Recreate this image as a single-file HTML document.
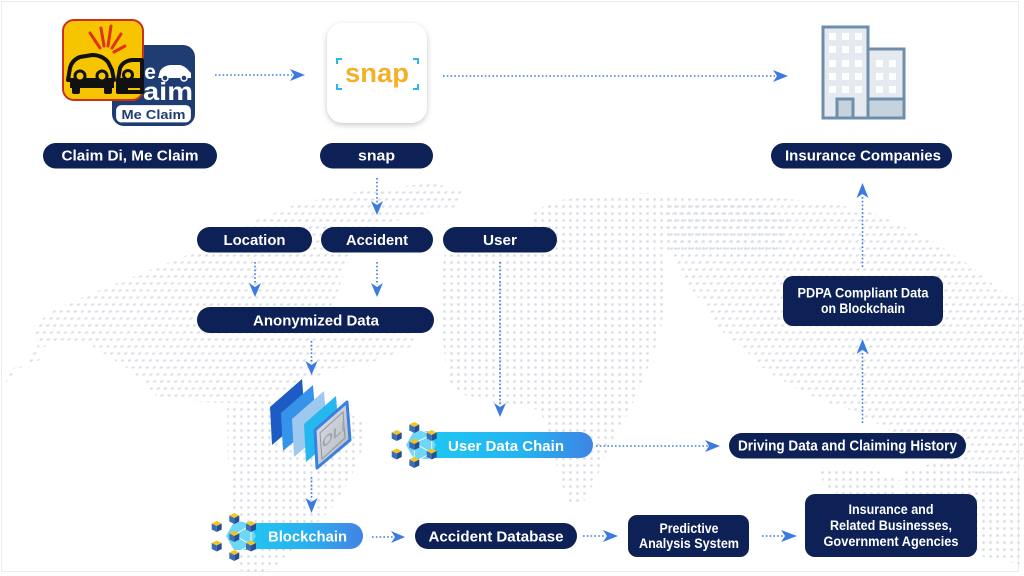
<!DOCTYPE html>
<html><head><meta charset="utf-8"><style>
html,body{margin:0;padding:0;background:#fff;}
svg{display:block;}
text{font-family:"Liberation Sans",Arial,sans-serif;font-weight:bold;}
</style></head><body>
<svg width="1024" height="576" viewBox="0 0 1024 576" xmlns="http://www.w3.org/2000/svg">
<defs>
<pattern id="dots" width="7" height="7" patternUnits="userSpaceOnUse"><circle cx="3.5" cy="3.5" r="1.35" fill="#d9dee5"/></pattern>
<pattern id="dots2" width="7" height="7" patternUnits="userSpaceOnUse" patternTransform="skewX(-25)"><ellipse cx="3.5" cy="3.5" rx="1.6" ry="1.2" fill="#dbe0e7"/></pattern>
<linearGradient id="gBC" x1="0" x2="1" y1="0" y2="0"><stop offset="0" stop-color="#1fc8f3"/><stop offset="0.55" stop-color="#2aaef0"/><stop offset="1" stop-color="#4283e4"/></linearGradient>
<linearGradient id="gUD" x1="0" x2="1" y1="0" y2="0"><stop offset="0" stop-color="#1dc9f4"/><stop offset="0.6" stop-color="#25b3f0"/><stop offset="1" stop-color="#3d84e4"/></linearGradient>
<linearGradient id="gSilver" x1="0" x2="1" y1="0" y2="1"><stop offset="0" stop-color="#e3e6ea"/><stop offset="1" stop-color="#aeb4bc"/></linearGradient>
<filter id="sh" x="-20%" y="-20%" width="140%" height="150%"><feDropShadow dx="0" dy="2" stdDeviation="3" flood-color="#000" flood-opacity="0.22"/></filter>
<g id="cube">
<polygon points="0,-5 5,-2.5 0,0 -5,-2.5" fill="#f6c51a"/>
<polygon points="-5,-2.5 0,0 0,6 -5,3.5" fill="#3a6fb8"/>
<polygon points="5,-2.5 0,0 0,6 5,3.5" fill="#244f92"/>
</g>
</defs>

<!-- frame -->
<rect x="1.5" y="1.5" width="1017" height="570" fill="none" stroke="#ececec" stroke-width="1"/>

<!-- world map dots -->
<g>
<polygon fill="url(#dots2)" points="0,387 7,370 40,360 33,327 53,310 100,290 150,270 200,250 257,220 300,203 367,190 433,183 462,190 455,207 420,215 380,225 360,240 345,270 335,300 330,320 360,330 410,320 415,345 380,360 330,370 300,385 260,400 233,403 200,402 160,400 133,372 90,345 60,340 33,352 15,375"/>
<polygon fill="url(#dots)" points="227,405 265,398 300,398 340,410 367,422 362,450 350,480 330,510 300,540 280,565 255,576 240,570 238,540 232,500 228,460"/>
<polygon fill="url(#dots)" points="445,250 480,243 520,240 560,236 600,235 640,242 662,252 665,300 660,335 645,375 630,410 612,440 600,470 585,500 570,505 560,480 552,445 540,410 505,405 470,398 448,385 443,340 440,290"/>
<polygon fill="url(#dots)" points="530,212 560,200 600,195 650,193 700,198 760,205 790,220 780,250 740,258 700,255 665,250 620,240 560,238 535,232"/>
<polygon fill="url(#dots2)" points="665,205 720,198 780,198 840,205 880,215 930,240 970,265 1000,290 1024,305 1024,470 995,480 965,470 935,455 905,440 880,425 850,410 820,400 790,385 765,370 745,350 720,330 700,300 680,275 668,250"/>
<polygon fill="url(#dots)" points="905,470 940,462 975,465 1010,475 1024,480 1024,565 995,560 965,552 938,540 915,525 905,500"/>
<polygon fill="url(#dots)" points="820,470 870,468 900,480 895,500 860,500 825,490"/>
</g>

<!-- ============ ICONS ============ -->
<!-- Me Claim icon (back) -->
<g>
<rect x="112" y="45" width="83" height="81" rx="12" fill="#1f3d72"/>
<text x="156" y="79" font-size="21" fill="#fff" text-anchor="end">Me</text>
<text x="143" y="100" font-size="25" fill="#fff" textLength="50" lengthAdjust="spacingAndGlyphs">aim</text>
<path d="M158,78 L160,71 Q163,66 170,65 L180,65 Q185,66 189,71 L191,73 L191,78 Z" fill="#fff"/>
<circle cx="165" cy="78" r="3" fill="#1f3d72" stroke="#fff" stroke-width="1.5"/>
<circle cx="184" cy="78" r="3" fill="#1f3d72" stroke="#fff" stroke-width="1.5"/>
<rect x="115.5" y="104.5" width="76" height="18.5" rx="6" fill="#fff" stroke="#1f3d72" stroke-width="1.2"/>
<text x="153.5" y="119" font-size="13" fill="#1f3d72" text-anchor="middle" textLength="64" lengthAdjust="spacingAndGlyphs">Me Claim</text>
</g>
<!-- Claim Di icon (front) -->
<g>
<rect x="63" y="20" width="80" height="80" rx="11" fill="#f7c500" stroke="#cc2e1f" stroke-width="2"/>
<g stroke="#e1301c" stroke-width="3" stroke-linecap="round">
<line x1="100" y1="48" x2="90" y2="33"/>
<line x1="104" y1="46" x2="101" y2="28"/>
<line x1="108" y1="46" x2="111" y2="26"/>
<line x1="112" y1="48" x2="121" y2="34"/>
<line x1="114" y1="52" x2="125" y2="46"/>
</g>
<!-- car 1 -->
<path d="M68,80 L70,68 Q72,60 80,57 L92,55 Q102,55 108,62 L112,70 L114,80 Z" fill="#f7c500" stroke="#111" stroke-width="4" stroke-linejoin="round"/>
<path d="M70,80 L114,80 L114,88 L70,88 Z" fill="#111"/>
<circle cx="80" cy="76" r="5" fill="#f7c500" stroke="#111" stroke-width="3"/>
<circle cx="102" cy="76" r="5" fill="#f7c500" stroke="#111" stroke-width="3"/>
<rect x="72" y="86" width="8" height="8" rx="2" fill="#111"/>
<rect x="104" y="86" width="8" height="8" rx="2" fill="#111"/>
<!-- car 2 (cut) -->
<path d="M118,80 L120,68 Q123,61 132,60 L142,60 L142,92 L118,92 Z" fill="#f7c500" stroke="#111" stroke-width="4" stroke-linejoin="round"/>
<rect x="118" y="78" width="24" height="10" fill="#111"/>
<circle cx="128" cy="75" r="4.5" fill="#f7c500" stroke="#111" stroke-width="3"/>
<rect x="120" y="86" width="8" height="8" rx="2" fill="#111"/>
</g>

<!-- snap icon -->
<g>
<rect x="327" y="23" width="100" height="100" rx="16" fill="#fff" filter="url(#sh)"/>
<text x="377" y="82" font-size="27" fill="#f3b12a" text-anchor="middle" textLength="64" lengthAdjust="spacingAndGlyphs">snap</text>
<g stroke="#2eb5e8" stroke-width="2" fill="none">
<path d="M342,59 L337,59 L337,64"/>
<path d="M337,84 L337,89 L342,89"/>
<path d="M413,59 L418,59 L418,64"/>
<path d="M418,84 L418,89 L413,89"/>
</g>
</g>

<!-- building icon -->
<g>
<rect x="823" y="27" width="45" height="91" fill="#e4eaf0" stroke="#6f8eaa" stroke-width="3"/>
<rect x="868" y="49" width="36" height="69" fill="#e4eaf0" stroke="#6f8eaa" stroke-width="3"/>
<rect x="868" y="99" width="36" height="19" fill="#c6d3df" stroke="#6f8eaa" stroke-width="3"/>
<rect x="837" y="99" width="16" height="19" fill="#c6d3df" stroke="#6f8eaa" stroke-width="3"/>
<g fill="#fff">
<rect x="829" y="33" width="7" height="7"/><rect x="842" y="33" width="7" height="7"/><rect x="855" y="33" width="7" height="7"/>
<rect x="829" y="46" width="7" height="7"/><rect x="842" y="46" width="7" height="7"/><rect x="855" y="46" width="7" height="7"/>
<rect x="829" y="60" width="7" height="7"/><rect x="842" y="60" width="7" height="7"/><rect x="855" y="60" width="7" height="7"/>
<rect x="829" y="73" width="7" height="7"/><rect x="842" y="73" width="7" height="7"/><rect x="855" y="73" width="7" height="7"/>
<rect x="829" y="86" width="7" height="7"/><rect x="842" y="86" width="7" height="7"/><rect x="855" y="86" width="7" height="7"/>
<rect x="876" y="60" width="7" height="7"/><rect x="889" y="60" width="7" height="7"/>
<rect x="876" y="73" width="7" height="7"/><rect x="889" y="73" width="7" height="7"/>
<rect x="876" y="86" width="7" height="7"/><rect x="889" y="86" width="7" height="7"/>
</g>
</g>

<!-- server stack icon -->
<g>
<polygon points="270,407 302,379 305,417 272,445" fill="#1d5cc4"/>
<polygon points="281,413 313,385 316,423 283,451" fill="#3792e9"/>
<polygon points="292,419 324,391 327,429 294,457" fill="#9dc9f1"/>
<polygon points="304,424 336,396 339,434 306,462" fill="#25b8ef"/>
<polygon points="315,430 347,402 350,440 317,468" fill="url(#gSilver)" stroke="#3a7fe2" stroke-width="3" stroke-linejoin="round"/>
<polygon points="320,433 343,412 345,438 322,459" fill="none" stroke="#8e959f" stroke-width="1"/>
<text x="0" y="0" font-size="14" fill="#a0a6ae" transform="translate(322,449) skewY(-40)">OLI</text>
</g>

<!-- User Data Chain -->
<g>
<rect x="418" y="432" width="175" height="26" rx="13" fill="url(#gUD)"/>
<polygon points="414,431 428,431 436,445 428,459 414,459 406,445" fill="#6fd6f5"/>
<g stroke="#fff" stroke-width="1" fill="none" opacity="0.9">
<polyline points="414.3,427 431.7,435 431.7,453 414.3,462 396.7,453"/>
<line x1="414.3" y1="443" x2="431.7" y2="435"/>
<line x1="414.3" y1="443" x2="431.7" y2="453"/>
<line x1="414.3" y1="443" x2="414.3" y2="462"/>
</g>
<use href="#cube" x="396.7" y="435"/>
<use href="#cube" x="414.3" y="427"/>
<use href="#cube" x="431.7" y="435"/>
<use href="#cube" x="414.3" y="444"/>
<use href="#cube" x="396.7" y="453.5"/>
<use href="#cube" x="431.7" y="453.5"/>
<use href="#cube" x="414.3" y="462"/>
<text x="506" y="451" font-size="14.5" fill="#fff" text-anchor="middle" textLength="116" lengthAdjust="spacingAndGlyphs">User Data Chain</text>
</g>

<!-- Blockchain -->
<g>
<rect x="243" y="523" width="120" height="26" rx="13" fill="url(#gBC)"/>
<polygon points="234,522 248,522 256,536 248,550 234,550 226,536" fill="#6fd6f5"/>
<g stroke="#fff" stroke-width="1" fill="none" opacity="0.9">
<polyline points="234.3,517 251,525 251,545 234.3,554"/>
<line x1="234.3" y1="535" x2="251" y2="525"/>
<line x1="234.3" y1="535" x2="251" y2="545"/>
</g>
<use href="#cube" x="216.7" y="526"/>
<use href="#cube" x="234.3" y="518"/>
<use href="#cube" x="251" y="526"/>
<use href="#cube" x="234.3" y="536"/>
<use href="#cube" x="216.7" y="545.5"/>
<use href="#cube" x="251" y="545.5"/>
<use href="#cube" x="234.3" y="555"/>
<text x="307.5" y="541.5" font-size="14.5" fill="#fff" text-anchor="middle" textLength="79" lengthAdjust="spacingAndGlyphs">Blockchain</text>
</g>

<!-- ============ NAVY LABELS ============ -->
<g fill="#0d2157">
<rect x="43" y="143" width="174" height="25.5" rx="12.7"/>
<rect x="320" y="143" width="113" height="25.5" rx="12.7"/>
<rect x="771" y="143" width="181" height="25.5" rx="12.7"/>
<rect x="197" y="227" width="115" height="25.5" rx="12.7"/>
<rect x="321" y="227" width="112" height="25.5" rx="12.7"/>
<rect x="443" y="227" width="114" height="25.5" rx="12.7"/>
<rect x="197" y="307" width="237" height="26" rx="13"/>
<rect x="415" y="523" width="162" height="26" rx="13"/>
<rect x="628" y="515" width="121" height="42" rx="9"/>
<rect x="805" y="494" width="172" height="63" rx="10"/>
<rect x="783" y="276" width="160" height="50" rx="10"/>
<rect x="729" y="433" width="237" height="25.5" rx="12.7"/>
</g>
<g fill="#fff" font-size="14.5" text-anchor="middle">
<text x="130" y="160.5" textLength="137" lengthAdjust="spacingAndGlyphs">Claim Di, Me Claim</text>
<text x="376.5" y="160.5" textLength="37" lengthAdjust="spacingAndGlyphs">snap</text>
<text x="863" y="160.5" textLength="156" lengthAdjust="spacingAndGlyphs">Insurance Companies</text>
<text x="254.5" y="245" textLength="62" lengthAdjust="spacingAndGlyphs">Location</text>
<text x="377" y="245" textLength="62" lengthAdjust="spacingAndGlyphs">Accident</text>
<text x="500" y="245" textLength="34" lengthAdjust="spacingAndGlyphs">User</text>
<text x="316" y="325.5" textLength="126" lengthAdjust="spacingAndGlyphs">Anonymized Data</text>
<text x="496" y="541.5" textLength="135" lengthAdjust="spacingAndGlyphs">Accident Database</text>
<text x="847.5" y="450.5" textLength="219" lengthAdjust="spacingAndGlyphs">Driving Data and Claiming History</text>
</g>
<g fill="#fff" font-size="13.5" text-anchor="middle">
<text x="689" y="533" textLength="59" lengthAdjust="spacingAndGlyphs">Predictive</text>
<text x="689" y="548" textLength="100" lengthAdjust="spacingAndGlyphs">Analysis System</text>
<text x="891" y="514" textLength="85" lengthAdjust="spacingAndGlyphs">Insurance and</text>
<text x="891" y="530" textLength="122" lengthAdjust="spacingAndGlyphs">Related Businesses,</text>
<text x="891" y="546" textLength="135" lengthAdjust="spacingAndGlyphs">Government Agencies</text>
<text x="863" y="297.5" textLength="131" lengthAdjust="spacingAndGlyphs">PDPA Compliant Data</text>
<text x="863" y="313" textLength="84" lengthAdjust="spacingAndGlyphs">on Blockchain</text>
</g>

<!-- ============ CONNECTORS ============ -->
<g stroke="#3b7be0" stroke-width="1.6" stroke-dasharray="1.6 2.2" fill="none">
<line x1="215" y1="75" x2="292" y2="75"/>
<line x1="443" y1="76" x2="775" y2="76"/>
<line x1="377" y1="178" x2="377" y2="205"/>
<line x1="255" y1="262" x2="255" y2="285"/>
<line x1="377" y1="262" x2="377" y2="285"/>
<line x1="311.5" y1="341" x2="311.5" y2="364"/>
<line x1="311.5" y1="477" x2="311.5" y2="499"/>
<line x1="500" y1="262" x2="500" y2="405"/>
<line x1="596" y1="446" x2="708" y2="446"/>
<line x1="372" y1="537" x2="395" y2="537"/>
<line x1="583" y1="536" x2="606" y2="536"/>
<line x1="762" y1="536" x2="783" y2="536"/>
<line x1="862.5" y1="423" x2="862.5" y2="351"/>
<line x1="862.5" y1="267" x2="862.5" y2="195"/>
</g>
<g fill="#3b7be0">
<polygon points="305,75 290,69 294,75 290,81"/>
<polygon points="788,76 773,70 777,76 773,82"/>
<polygon points="377,215 371,201 377,205 383,201"/>
<polygon points="255,297 249,283 255,287 261,283"/>
<polygon points="377,297 371,283 377,287 383,283"/>
<polygon points="311.5,375 305.5,361 311.5,365 317.5,361"/>
<polygon points="311.5,513 305.5,498 311.5,502 317.5,498"/>
<polygon points="500,417 494,403 500,407 506,403"/>
<polygon points="720,446 705,440 709,446 705,452"/>
<polygon points="405,537 391,531 395,537 391,543"/>
<polygon points="618,536 603,530 607,536 603,542"/>
<polygon points="797,536 781,530 785,536 781,542"/>
<polygon points="862.5,339 856.5,354 862.5,350 868.5,354"/>
<polygon points="862.5,183 856.5,198 862.5,194 868.5,198"/>
</g>
</svg>
</body></html>
